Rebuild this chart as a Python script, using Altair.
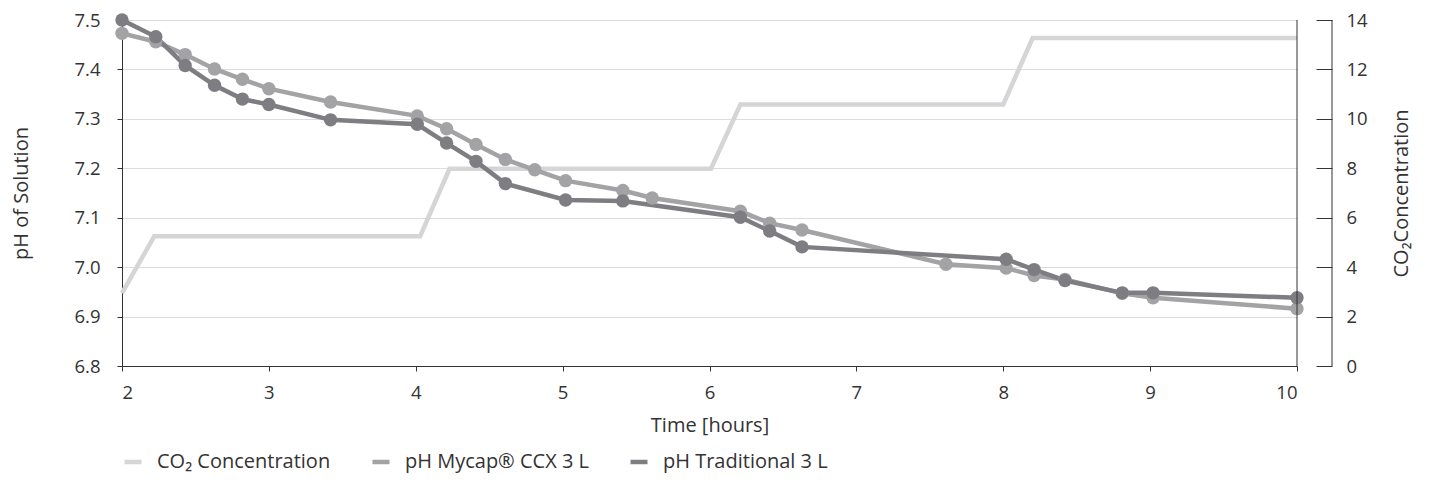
import altair as alt
import pandas as pd

# CO2 concentration (right axis)
co2_t = [2.0, 2.22, 4.03, 4.23, 6.01, 6.21, 8.0, 8.2, 10.0]
co2_v = [2.95, 5.25, 5.25, 7.98, 7.98, 10.58, 10.58, 13.27, 13.27]

# pH Mycap CCX 3 L
mycap_t = [2.0, 2.23, 2.43, 2.63, 2.82, 3.0, 3.42, 4.01, 4.21, 4.41, 4.61, 4.81,
           5.02, 5.41, 5.61, 6.21, 6.41, 6.63, 7.61, 8.02, 8.21, 8.42, 8.81, 9.02, 10.0]
mycap_ph = [7.473, 7.456, 7.430, 7.401, 7.380, 7.361, 7.334, 7.306, 7.280, 7.248, 7.218, 7.197,
            7.175, 7.155, 7.140, 7.113, 7.089, 7.075, 7.006, 6.998, 6.983, 6.975, 6.947, 6.938, 6.916]

# pH Traditional 3 L
trad_t = [2.0, 2.23, 2.43, 2.63, 2.82, 3.0, 3.42, 4.01, 4.21, 4.41, 4.61, 5.02,
          5.41, 6.21, 6.41, 6.63, 8.02, 8.21, 8.42, 8.81, 9.02, 10.0]
trad_ph = [7.500, 7.466, 7.408, 7.368, 7.340, 7.329, 7.298, 7.289, 7.251, 7.214, 7.169, 7.136,
           7.134, 7.101, 7.073, 7.041, 7.016, 6.995, 6.973, 6.948, 6.948, 6.938]

series_names = ["CO₂ Concentration", "pH Mycap® CCX 3 L", "pH Traditional 3 L"]
series_colors = ["#d5d5d7", "#a3a3a6", "#7e7e82"]

ph_ticks = [6.8, 6.9, 7.0, 7.1, 7.2, 7.3, 7.4, 7.5]
co2_ticks = [0, 2, 4, 6, 8, 10, 12, 14]
x_ticks = [2, 3, 4, 5, 6, 7, 8, 9, 10]

W, H = 1175, 346
FONT = "Open Sans"
TXT = "#333333"

co2_df = pd.DataFrame({"t": co2_t, "v": co2_v, "series": series_names[0]})
ph_df = pd.concat([
    pd.DataFrame({"t": mycap_t, "ph": mycap_ph, "series": series_names[1]}),
    pd.DataFrame({"t": trad_t, "ph": trad_ph, "series": series_names[2]}),
])

color_scale = alt.Scale(domain=series_names, range=series_colors)
legend = alt.Legend(
    title=None, orient="none", legendX=0, legendY=431, direction="horizontal",
    symbolType="stroke", symbolSize=289, symbolStrokeWidth=4.5,
    labelFont=FONT, labelFontSize=20, labelColor=TXT, labelOffset=13,
    labelLimit=400, columnPadding=32, padding=0, symbolOpacity=1,
)

x_enc = alt.X("t:Q", scale=alt.Scale(domain=[2, 10], nice=False, zero=False),
              axis=alt.Axis(values=x_ticks, title="Time [hours]", grid=False,
                            domainColor=TXT, tickColor=TXT, tickSize=5,
                            labelPadding=12, titlePadding=14, format="d"))

co2_line = alt.Chart(co2_df).mark_line(strokeWidth=4.5).encode(
    x=x_enc,
    y=alt.Y("v:Q", scale=alt.Scale(domain=[0, 14], nice=False, zero=False),
            axis=alt.Axis(orient="right", values=co2_ticks, title="CO₂Concentration",
                          grid=False, domain=False, offset=19, tickSize=16,
                          tickColor=TXT, labelPadding=14, titleAngle=270,
                          titlePadding=44, format="d")),
    color=alt.Color("series:N", scale=color_scale, legend=legend, sort=series_names),
)

ph_y = alt.Y("ph:Q", scale=alt.Scale(domain=[6.8, 7.5], nice=False, zero=False),
             axis=alt.Axis(orient="left", values=ph_ticks, title="pH of Solution",
                           grid=True, gridColor="#dcdcdc", domainColor=TXT,
                           tickColor=TXT, tickSize=5, labelPadding=17,
                           titlePadding=42, format=".1f"))

ph_line = alt.Chart(ph_df).mark_line(strokeWidth=4.5).encode(
    x=x_enc, y=ph_y,
    color=alt.Color("series:N", scale=color_scale, legend=legend, sort=series_names),
)
ph_pts = alt.Chart(ph_df).mark_circle(size=180, opacity=1).encode(
    x=x_enc, y=ph_y,
    color=alt.Color("series:N", scale=color_scale, legend=legend, sort=series_names),
)

dummy = pd.DataFrame({"a": [0]})
edge_rule = alt.Chart(dummy).mark_rule(color=TXT, strokeWidth=1).encode(
    x=alt.value(W), y=alt.value(0), y2=alt.value(H))
axis_rule = alt.Chart(dummy).mark_rule(color=TXT, strokeWidth=1).encode(
    x=alt.value(W + 35), y=alt.value(0), y2=alt.value(H))

chart = alt.layer(
    co2_line, alt.layer(ph_line, ph_pts), edge_rule, axis_rule
).resolve_scale(y="independent", color="shared").properties(
    width=W, height=H,
    padding={"left": 114, "top": 12, "right": 120, "bottom": 110},
    autosize=alt.AutoSizeParams(type="none"),
).configure_view(stroke=None).configure_axis(
    labelFont=FONT, labelFontSize=18.5, labelColor=TXT,
    titleFont=FONT, titleFontSize=20, titleColor=TXT, titleFontWeight="normal",
)

chart.save("out.html", embed_options={"renderer": "svg", "actions": False})
